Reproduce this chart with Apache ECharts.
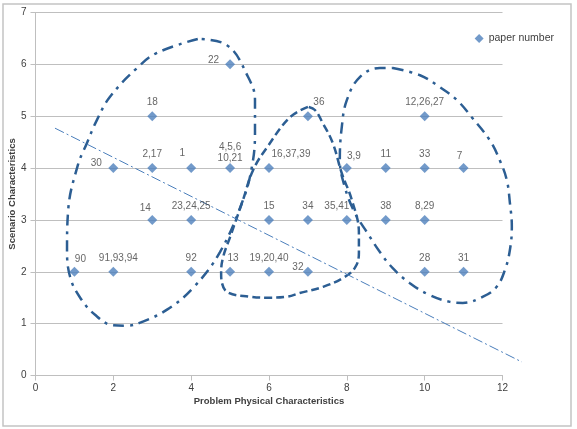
<!DOCTYPE html>
<html>
<head>
<meta charset="utf-8">
<script src="https://cdn.jsdelivr.net/npm/echarts@6/dist/echarts.min.js"></script>
<style>
  html, body { margin: 0; padding: 0; background: #fff; }
  #main { width: 577px; height: 429px; }
</style>
</head>
<body>
<div id="main"></div>
<script>
// paper positions (problem physical characteristics, scenario characteristics)
const paperX = [5, 3, 7, 10, 2, 3, 4, 5, 6, 8, 9, 10, 11, 3, 4, 6, 7, 8, 9, 10, 1, 2, 4, 5, 6, 7, 10, 11];
const paperY = [6, 5, 5, 5, 4, 4, 4, 4, 4, 4, 4, 4, 4, 3, 3, 3, 3, 3, 3, 3, 2, 2, 2, 2, 2, 2, 2, 2];
const paperLabels = ['22', '18', '36', '12,26,27', '30', '2,17', '1', '4,5,6\n10,21', '16,37,39', '3,9', '11', '33', '7',
  '14', '23,24,25', '15', '34', '35,41', '38', '8,29', '90', '91,93,94', '92', '13', '19,20,40', '32', '28', '31'];

// hand drawn cluster outlines in data units
const c3Outline = [[4.17, 6.49], [3.12, 6.22], [2.61, 5.93], [1.91, 5.37], [1.58, 4.93], [1.32, 4.48], [1.09, 4.06],
  [0.84, 3.19], [0.81, 2.42], [0.89, 1.9], [1.14, 1.51], [1.53, 1.17], [1.99, 0.97], [2.35, 0.96], [2.76, 1.04],
  [3.38, 1.27], [4.05, 1.69], [4.74, 2.38], [5.33, 3.38], [5.56, 4.02], [5.64, 4.68], [5.64, 5.31], [5.46, 5.76],
  [4.92, 6.37], [4.17, 6.49]];
const c2Outline = [[7.0, 5.18], [6.54, 4.98], [5.95, 4.4], [5.59, 3.96], [5.33, 3.38], [5.0, 2.67], [4.82, 2.28],
  [4.77, 1.98], [4.79, 1.79], [4.95, 1.6], [5.51, 1.52], [5.95, 1.5], [6.46, 1.52], [6.79, 1.59], [7.39, 1.71],
  [7.9, 1.88], [8.21, 2.08], [8.31, 2.36], [8.31, 2.75], [8.13, 3.38], [7.87, 3.9], [7.64, 4.48], [7.38, 4.87],
  [7.18, 5.12], [7.0, 5.18]];
const c1Outline = [[9.18, 5.93], [9.88, 5.79], [10.39, 5.56], [10.83, 5.31], [11.21, 4.98], [11.67, 4.54],
  [11.93, 4.15], [12.11, 3.77], [12.19, 3.33], [12.24, 2.87], [12.19, 2.42], [12.06, 2.03], [11.85, 1.71],
  [11.5, 1.52], [10.98, 1.4], [10.65, 1.42], [10.13, 1.55], [9.62, 1.78], [9.18, 2.07], [8.85, 2.38], [8.51, 2.77],
  [8.21, 3.13], [7.95, 3.63], [7.82, 4.16], [7.87, 4.79], [8.0, 5.31], [8.34, 5.76], [8.85, 5.93], [9.18, 5.93]];
const dividerLine = [[0.5, 4.77], [12.5, 0.26]];

const clusterNames = ['C3', 'C2', 'C1'];
const clusterNameAt = [[2.15, 6.39], [6.95, 5.89], [9.31, 6.33]];

// label nudges for the crowded points (pixels)
const labelNudge = {
  '30': [-17, 9], '14': [-7, 2], '90': [6, 1], '13': [3, 0], '32': [-10, 9], '35,41': [-10, 0],
  '36': [11, 0], '16,37,39': [22, 0], '1': [-9, -1], '3,9': [7, 2], '7': [-4, 2], '91,93,94': [5, 0],
  '4,5,6\n10,21': [0, 4]
};

const chart = echarts.init(document.getElementById('main'));
const outlineColor = '#2c5e93';
const font = 'Liberation Sans';
const unitPx = 467 / 12;

const paperData = paperX.map((x, i) => {
  const txt = paperLabels[i];
  const item = { value: [x, paperY[i]], name: txt };
  if (txt === '22') {
    item.label = { position: 'left', distance: 6, offset: [0, -4] };
  } else if (labelNudge[txt]) {
    item.label = { offset: labelNudge[txt] };
  }
  return item;
});

// outlines sit on a second, hidden grid with the same scale but a wider x range,
// so the parts past x = 12 are not cut off
function outline(data, type) {
  return {
    type: 'line',
    xAxisIndex: 1,
    yAxisIndex: 1,
    data: data,
    smooth: 0.4,
    symbol: 'none',
    silent: true,
    z: 1,
    lineStyle: { color: outlineColor, width: 2.5, type: type }
  };
}

chart.setOption({
  animation: false,
  textStyle: { fontFamily: font },
  graphic: [{
    type: 'rect',
    shape: { x: 3, y: 4, width: 568, height: 422 },
    style: { fill: 'none', stroke: '#c4c4c4', lineWidth: 1.5 },
    z: -1
  }],
  grid: [
    { left: 35.5, width: 467, top: 12.5, bottom: 53.5, containLabel: false, outerBoundsMode: 'none' },
    { left: 35.5, width: unitPx * 13, top: 12.5, bottom: 53.5, containLabel: false, outerBoundsMode: 'none' }
  ],
  legend: {
    data: ['paper number'],
    right: 18,
    top: 28,
    itemWidth: 9,
    itemHeight: 9,
    itemGap: 4,
    textStyle: { fontSize: 10.5, color: '#404040', fontFamily: font }
  },
  xAxis: [{
    type: 'value',
    min: 0, max: 12, interval: 2,
    name: 'Problem Physical Characteristics',
    nameLocation: 'middle',
    nameGap: 21,
    nameMoveOverlap: false,
    nameTextStyle: { fontWeight: 'bold', fontSize: 9.5, color: '#404040' },
    axisLine: { lineStyle: { color: '#bfbfbf' } },
    axisTick: { show: true, length: 5, lineStyle: { color: '#bfbfbf' } },
    axisLabel: { fontSize: 10, color: '#404040', margin: 8 },
    splitLine: { show: false }
  }, {
    type: 'value', gridIndex: 1, min: 0, max: 13, show: false
  }],
  yAxis: [{
    type: 'value',
    min: 0, max: 7, interval: 1,
    name: 'Scenario Characteristics',
    nameLocation: 'middle',
    nameGap: 18,
    nameMoveOverlap: false,
    nameTextStyle: { fontWeight: 'bold', fontSize: 9.5, color: '#404040' },
    axisLine: { show: true, lineStyle: { color: '#bfbfbf' } },
    axisTick: { show: true, length: 5, lineStyle: { color: '#bfbfbf' } },
    axisLabel: { fontSize: 10, color: '#404040', margin: 9 },
    splitLine: { lineStyle: { color: '#bfbfbf' } }
  }, {
    type: 'value', gridIndex: 1, min: 0, max: 7, show: false
  }],
  series: [
    {
      name: 'paper number',
      type: 'scatter',
      symbol: 'diamond',
      symbolSize: 10,
      z: 3,
      itemStyle: { color: '#4f81bd' },
      label: {
        show: true,
        position: 'top',
        distance: 3,
        formatter: p => p.name,
        fontSize: 10,
        lineHeight: 11,
        color: '#404040'
      },
      data: paperData
    },
    outline(c3Outline, [11, 6, 3, 6]),
    outline(c2Outline, [8, 4]),
    outline(c1Outline, [11, 6, 3, 6]),
    {
      type: 'line',
      xAxisIndex: 1,
      yAxisIndex: 1,
      data: dividerLine,
      symbol: 'none',
      silent: true,
      z: 2,
      lineStyle: { color: '#4a7ebb', width: 1, type: [10, 3, 2, 3] }
    },
    {
      type: 'scatter',
      symbol: 'none',
      silent: true,
      data: clusterNameAt.map((p, i) => ({ value: p, name: clusterNames[i] })),
      label: {
        show: true,
        position: 'inside',
        formatter: p => p.name,
        fontWeight: 'bold',
        fontSize: 11,
        color: '#000'
      }
    }
  ]
});
</script>
</body>
</html>
